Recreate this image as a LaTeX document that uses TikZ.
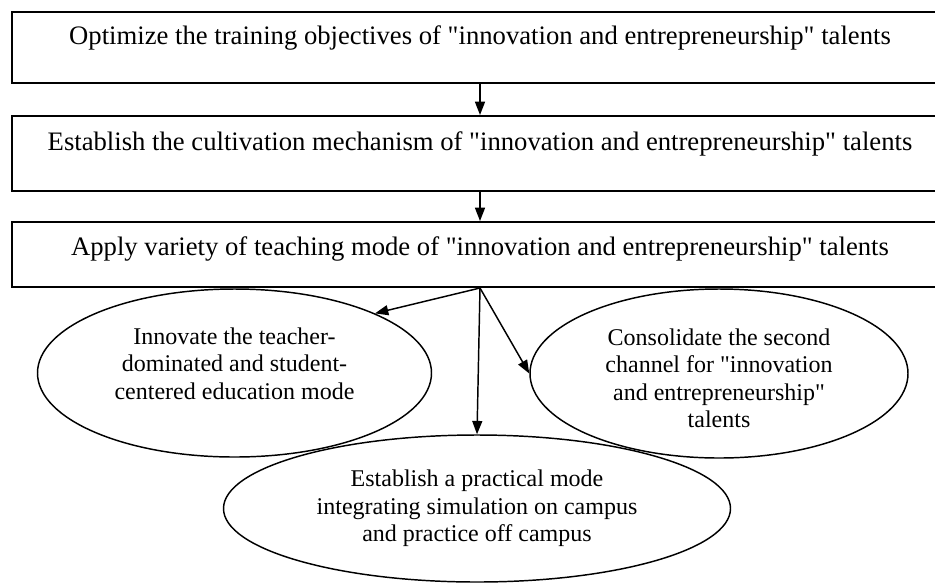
\documentclass[tikz,border=0pt]{standalone}
\usepackage{fontspec}
\setmainfont{Liberation Serif}
\usetikzlibrary{shapes.geometric,arrows.meta}
\newcommand{\qt}{\textquotedbl}

\begin{document}
\begin{tikzpicture}[x=0.75pt,y=-0.75pt,
    stagebox/.style={rectangle, draw, line width=1.5pt, minimum width=702pt,
        inner sep=0pt, font=\fontsize{20}{24}\selectfont,
        text height=12pt, text depth=16pt},
    measure/.style={ellipse, draw, line width=1.1pt, inner sep=0pt, align=center,
        font=\fontsize{18}{20.6}\selectfont},
    flow/.style={->, line width=1.1pt, >={Triangle[length=10pt,width=7.5pt]}}]
    \useasboundingbox (0,0) rectangle (935,583);
    % three stages of talent training
    \node[stagebox, minimum height=53.25pt] (objectives) at (480,47.5)
        {Optimize the training objectives of \qt innovation and entrepreneurship\qt{} talents};
    \node[stagebox, minimum height=56.25pt] (mechanism) at (480,153.5)
        {Establish the cultivation mechanism of \qt innovation and entrepreneurship\qt{} talents};
    \node[stagebox, minimum height=48.75pt, text depth=11pt] (teaching) at (480,254.5)
        {Apply variety of teaching mode of \qt innovation and entrepreneurship\qt{} talents};

    % teaching modes
    \node[measure, minimum width=295.5pt, minimum height=126pt] (dominated) at (234.5,373)
        {Innovate the teacher-\\dominated and student-\\centered education mode\\[-6pt]\mbox{}};
    \node[measure, minimum width=283.5pt, minimum height=126.75pt] (channel) at (719,373.5)
        {\rule{0pt}{20pt}Consolidate the second\\channel for \qt innovation\\and entrepreneurship\qt\\talents};
    \node[measure, minimum width=380.25pt, minimum height=110.25pt] (practical) at (477,508.5)
        {Establish a practical mode\\integrating simulation on campus\\and practice off campus};

    \draw[flow] (objectives) -- (mechanism);
    \draw[flow] (mechanism) -- (teaching);
    \draw[flow] (teaching.south) -- (dominated.23);
    \draw[flow] (teaching.south) -- (practical.north);
    \draw[flow] (teaching.south) -- (channel.west);
\end{tikzpicture}
\end{document}
